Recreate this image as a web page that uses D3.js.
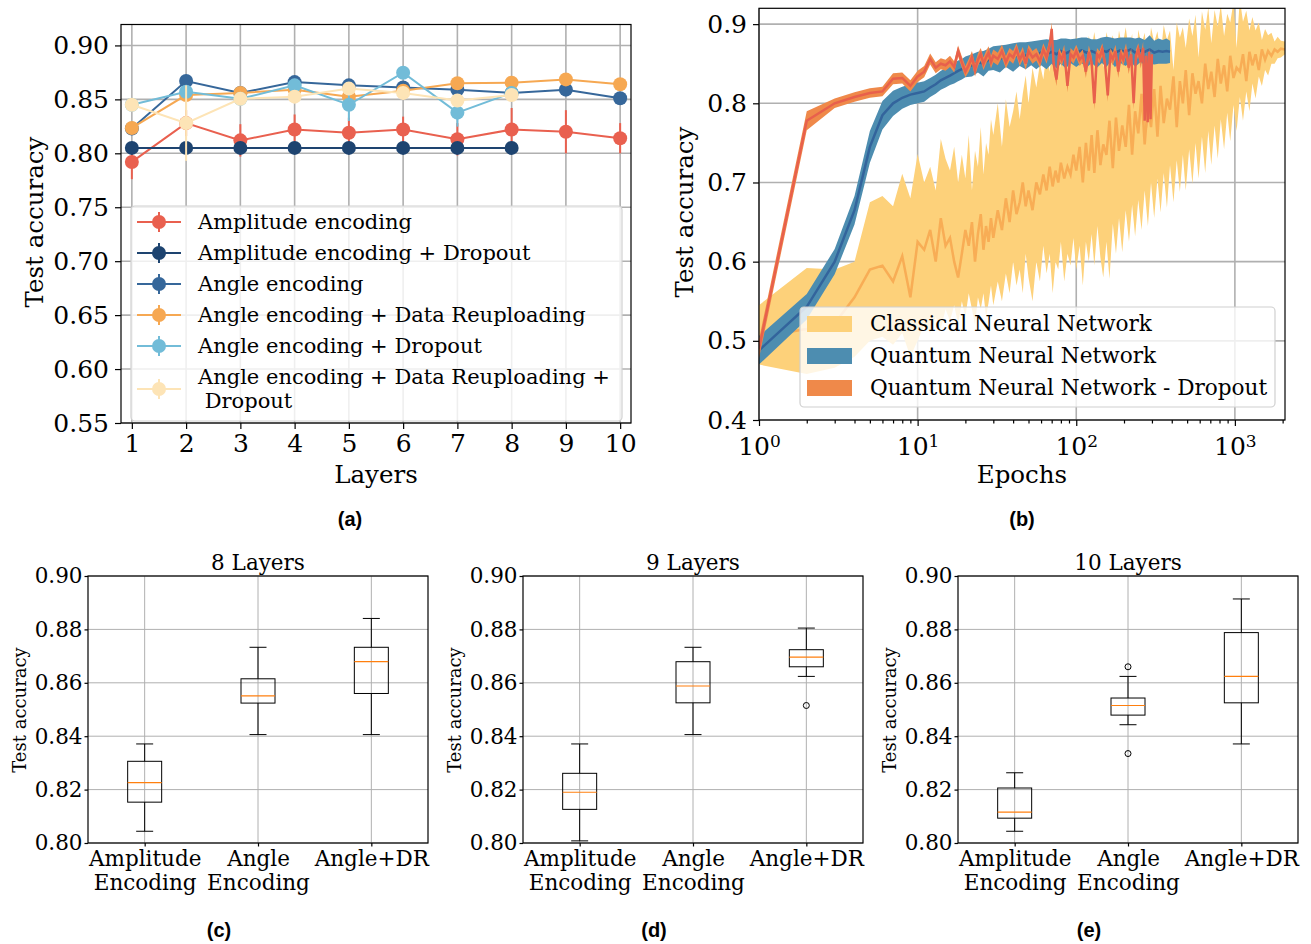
<!DOCTYPE html>
<html>
<head>
<meta charset="utf-8">
<script src="https://cdn.jsdelivr.net/npm/d3@7"></script>
<style>
body { margin: 0; background: #fff; }
svg text { font-family: "DejaVu Serif", serif; fill: #000; }
</style>
</head>
<body>
<svg id="chart" width="1311" height="944"></svg>
<script>
// ---------------- data: panel (a) ----------------
var layers = [1, 2, 3, 4, 5, 6, 7, 8, 9, 10];
var aTicks = [0.55, 0.60, 0.65, 0.70, 0.75, 0.80, 0.85, 0.90];

var ampMean = [0.792, 0.828, 0.812, 0.822, 0.819, 0.822, 0.813, 0.822, 0.820, 0.814];
var ampErr = [0.016, 0.012, 0.015, 0.014, 0.014, 0.012, 0.015, 0.020, 0.020, 0.014];
var ampDropMean = [0.805, 0.805, 0.805, 0.805, 0.805, 0.805, 0.805, 0.805];
var ampDropErr = [0.001, 0.001, 0.001, 0.001, 0.001, 0.001, 0.001, 0.001];
var angleMean = [0.823, 0.867, 0.856, 0.866, 0.863, 0.861, 0.859, 0.856, 0.859, 0.851];
var angleErr = [0.004, 0.005, 0.004, 0.004, 0.004, 0.006, 0.004, 0.004, 0.004, 0.005];
var angleDrMean = [0.8235, 0.854, 0.856, 0.859, 0.8525, 0.858, 0.865, 0.8655, 0.8685, 0.864];
var angleDrErr = [0.004, 0.005, 0.004, 0.006, 0.006, 0.005, 0.004, 0.004, 0.004, 0.004];
var angleDropMean = [0.845, 0.857, 0.8505, 0.863, 0.845, 0.8747, 0.8377, 0.856];
var angleDropErr = [0.004, 0.006, 0.005, 0.006, 0.015, 0.005, 0.013, 0.006];
var angleDrDropMean = [0.845, 0.828, 0.8505, 0.8525, 0.860, 0.856, 0.849, 0.854];
var angleDrDropErr = [0.004, 0.035, 0.005, 0.006, 0.006, 0.006, 0.006, 0.005];

var aNames = ["Amplitude encoding", "Amplitude encoding + Dropout", "Angle encoding",
    "Angle encoding + Data Reuploading", "Angle encoding + Dropout",
    "Angle encoding + Data Reuploading +\n Dropout"];
var aColors = ["#e9604f", "#1e4470", "#36679a", "#f6a852", "#72bcd8", "#fde4b6"];

// ---------------- data: panel (b) ----------------
var bTicks = [0.4, 0.5, 0.6, 0.7, 0.8, 0.9];
var bDecades = [1, 10, 100, 1000];
var bNames = ["Classical Neural Network", "Quantum Neural Network", "Quantum Neural Network - Dropout"];

var clEpochs = [1, 2, 3, 4, 5, 6, 7, 8, 9, 10,
    11, 12, 13, 14, 15, 16, 17, 18, 19, 20,
    21, 22, 23, 24, 25, 26, 27, 28, 29, 30,
    32, 34, 36, 38, 40, 42, 44, 46, 48, 50,
    53, 56, 59, 62, 65, 68, 71, 74, 77, 80,
    84, 88, 92, 96, 100, 105, 110, 115, 120, 125,
    130, 136, 142, 148, 155, 162, 170, 178, 186, 195,
    205, 215, 225, 235, 246, 258, 270, 283, 296, 310,
    325, 340, 356, 373, 390, 410, 430, 450, 470, 490,
    515, 540, 565, 590, 620, 650, 680, 710, 745, 780,
    815, 855, 895, 935, 980, 1025, 1075, 1125, 1180, 1235,
    1290, 1350, 1415, 1480, 1550, 1620, 1700, 1780, 1860, 1950,
    2070];
var clHigh = [.545, .592, .590, .600, .675, .683, .670, .711, .680, .736,
    .700, .720, .690, .755, .730, .715, .745, .700, .735, .705,
    .760, .690, .740, .720, .770, .710, .750, .735, .780, .760,
    .800, .745, .805, .770, .790, .815, .780, .812, .835, .800,
    .845, .820, .850, .830, .865, .840, .875, .850, .870, .845,
    .880, .860, .875, .855, .885, .865, .880, .860, .885, .870,
    .890, .862, .884, .845, .890, .872, .886, .858, .892, .870,
    .896, .865, .888, .832, .893, .874, .889, .850, .896, .877,
    .891, .860, .899, .880, .892, .842, .902, .883, .896, .870,
    .907, .885, .912, .858, .916, .893, .921, .876, .918, .897,
    .924, .885, .913, .902, .928, .870, .932, .903, .917, .892,
    .909, .892, .902, .880, .894, .886, .889, .878, .884, .879,
    .878];
var clLow = [.470, .458, .466, .480, .500, .505, .495, .510, .480, .500,
    .520, .510, .530, .515, .540, .525, .545, .520, .550, .530,
    .560, .540, .520, .555, .540, .560, .530, .548, .570, .545,
    .575, .550, .585, .560, .600, .570, .590, .560, .610, .580,
    .550, .600, .575, .620, .585, .610, .560, .600, .590, .625,
    .575, .610, .595, .630, .590, .620, .570, .625, .600, .635,
    .595, .645, .605, .580, .625, .578, .648, .610, .655, .612,
    .665, .625, .672, .632, .678, .640, .690, .645, .700, .655,
    .705, .662, .712, .668, .722, .675, .728, .688, .735, .690,
    .742, .698, .750, .705, .758, .712, .765, .722, .772, .730,
    .780, .742, .788, .752, .798, .765, .808, .778, .815, .790,
    .825, .806, .834, .822, .842, .835, .850, .850, .857, .858,
    .862];
var clMean = [.505, .515, .522, .555, .590, .595, .575, .607, .555, .625,
    .615, .640, .600, .655, .620, .630, .600, .580, .610, .640,
    .620, .650, .600, .635, .660, .615, .645, .625, .655, .630,
    .665, .640, .680, .650, .690, .660, .675, .700, .670, .690,
    .665, .700, .685, .710, .690, .720, .695, .715, .700, .725,
    .705, .720, .710, .735, .715, .745, .700, .750, .715, .760,
    .712, .766, .722, .748, .735, .778, .718, .782, .740, .772,
    .745, .798, .735, .790, .762, .812, .748, .800, .770, .818,
    .758, .822, .775, .806, .792, .834, .770, .828, .800, .842,
    .785, .838, .812, .828, .800, .850, .818, .840, .808, .856,
    .825, .848, .815, .860, .832, .845, .840, .862, .828, .865,
    .848, .862, .842, .868, .855, .866, .860, .868, .865, .869,
    .868];

var qEpochs = [1, 2, 3, 4, 5, 6, 7, 8, 9, 10,
    11, 12, 13, 14, 15, 16, 17, 18, 19, 20,
    22, 24, 26, 28, 30, 33, 36, 40, 44, 48,
    52, 56, 60, 65, 70, 75, 80, 86, 92, 100,
    108, 116, 125, 135, 145, 155, 165, 175, 190, 205,
    220, 235, 250, 270, 290, 310, 330, 350, 370, 390];
var qMean = [.488, .543, .600, .665, .745, .785, .800, .807, .811, .813,
    .815, .820, .824, .829, .832, .835, .838, .841, .843, .846,
    .848, .852, .850, .855, .857, .856, .860, .858, .862, .860,
    .863, .861, .864, .862, .865, .862, .866, .863, .866, .864,
    .867, .864, .866, .863, .867, .865, .868, .864, .867, .865,
    .868, .864, .867, .865, .868, .864, .866, .865, .866, .865];
var qSpread = [.018, .016, .016, .018, .020, .018, .016, .014, .013, .013,
    .013, .012, .012, .012, .012, .012, .013, .013, .013, .013,
    .014, .013, .016, .014, .015, .017, .014, .018, .015, .017,
    .015, .018, .016, .019, .015, .018, .016, .019, .015, .018,
    .016, .019, .015, .018, .016, .019, .015, .018, .016, .018,
    .015, .018, .016, .015, .018, .015, .016, .015, .016, .014];

var drEpochs = [1, 2, 3, 4, 5, 6, 7, 8, 9, 10,
    11, 12, 13, 14, 15, 16, 17, 18, 19, 20,
    21, 22, 23, 24, 25, 26, 27, 28, 29, 30,
    32, 34, 36, 38, 40, 42, 44, 46, 48, 50,
    53, 56, 59, 62, 65, 68, 70, 72, 75, 78,
    81, 84, 88, 92, 96, 100, 105, 110, 115, 120,
    125, 130, 135, 140, 146, 152, 158, 164, 170, 177,
    184, 191, 198, 206, 214, 222, 230, 238, 246, 255,
    264, 270, 276, 282, 288, 294, 300];
var drMean = [.490, .778, .800, .808, .813, .815, .831, .832, .822, .834,
    .840, .856, .845, .850, .848, .853, .846, .866, .852, .840,
    .848, .858, .842, .855, .862, .850, .858, .864, .852, .860,
    .856, .866, .852, .862, .858, .868, .855, .863, .850, .866,
    .858, .862, .853, .868, .858, .874, .894, .850, .830, .862,
    .855, .866, .822, .862, .858, .866, .855, .860, .840, .865,
    .852, .800, .862, .858, .868, .850, .810, .862, .856, .866,
    .840, .862, .855, .868, .845, .862, .800, .860, .868, .852,
    .870, .778, .860, .776, .865, .780, .862];
var drSpread = [.012, .012, .006, .006, .006, .006, .007, .007, .007, .007,
    .007, .007, .007, .007, .007, .007, .007, .007, .007, .007,
    .008, .008, .008, .008, .008, .008, .008, .008, .008, .008,
    .008, .008, .008, .008, .008, .008, .008, .008, .008, .008,
    .008, .008, .008, .008, .008, .008, .008, .008, .008, .008,
    .008, .008, .008, .008, .008, .008, .008, .008, .008, .008,
    .008, .008, .008, .008, .008, .008, .008, .008, .008, .008,
    .008, .008, .008, .008, .008, .008, .008, .008, .008, .008,
    .008, .008, .008, .008, .008, .008, .008];

// ---------------- data: panels (c)-(e) ----------------
var boxCats = ["Amplitude\nEncoding", "Angle\nEncoding", "Angle+DR"];
var boxTicks = [0.80, 0.82, 0.84, 0.86, 0.88, 0.90];
// [whisker low, q1, median, q3, whisker high]
var stats8 = [[0.8044, 0.8153, 0.8226, 0.8306, 0.8371],
    [0.8406, 0.8524, 0.8551, 0.8615, 0.8733],
    [0.8406, 0.8560, 0.8679, 0.8733, 0.8841]];
var outliers8 = [[], [], []];
var stats9 = [[0.8008, 0.8126, 0.8190, 0.8261, 0.8371],
    [0.8406, 0.8525, 0.8588, 0.8679, 0.8733],
    [0.8624, 0.8660, 0.8696, 0.8724, 0.8805]];
var outliers9 = [[], [], [0.8515]];
var stats10 = [[0.8044, 0.8093, 0.8116, 0.8206, 0.8263],
    [0.8443, 0.8479, 0.8515, 0.8543, 0.8624],
    [0.8371, 0.8525, 0.8624, 0.8788, 0.8914]];
var outliers10 = [[], [0.8335, 0.8660], []];

var svg = d3.select("#chart");
var gridColor = "#b0b0b0";

function styleAxis(g, size) {
    g.attr("font-family", "DejaVu Serif").attr("font-size", size);
    g.select(".domain").remove();
    g.selectAll(".tick line").attr("stroke", "#000").attr("stroke-width", 1.2);
    g.selectAll(".tick text").attr("fill", "#000");
}

function drawGrid(g, xs, xv, ys, yv, width) {
    var x0 = xs.range()[0], x1 = xs.range()[1];
    var y0 = ys.range()[0], y1 = ys.range()[1];
    g.append("g").selectAll("line").data(xv).join("line")
        .attr("x1", d => xs(d)).attr("x2", d => xs(d))
        .attr("y1", y0).attr("y2", y1)
        .attr("stroke", gridColor).attr("stroke-width", width);
    g.append("g").selectAll("line").data(yv).join("line")
        .attr("x1", x0).attr("x2", x1)
        .attr("y1", d => ys(d)).attr("y2", d => ys(d))
        .attr("stroke", gridColor).attr("stroke-width", width);
}

function frame(g, xs, ys) {
    var x0 = xs.range()[0], x1 = xs.range()[1];
    var y0 = ys.range()[0], y1 = ys.range()[1];
    g.append("rect")
        .attr("x", x0).attr("y", y1)
        .attr("width", x1 - x0).attr("height", y0 - y1)
        .attr("fill", "none").attr("stroke", "#000").attr("stroke-width", 1.2);
}

function panelLabel(txt, x, y) {
    svg.append("text").attr("x", x).attr("y", y)
        .attr("text-anchor", "middle")
        .style("font-family", "'Liberation Sans', Arial, sans-serif")
        .style("font-weight", "bold")
        .attr("font-size", 20)
        .text(txt);
}

// ================= panel (a) =================
(function() {
    var xA = d3.scaleLinear().domain([0.8, 10.2]).range([121, 631]);
    var yA = d3.scaleLinear().domain([0.55, 0.9194]).range([423, 24.5]);
    var g = svg.append("g");

    drawGrid(g, xA, layers, yA, aTicks, 1.6);

    var means = [ampMean, ampDropMean, angleMean, angleDrMean, angleDropMean, angleDrDropMean];
    var errs = [ampErr, ampDropErr, angleErr, angleDrErr, angleDropErr, angleDrDropErr];

    means.forEach(function(m, k) {
        var pts = m.map(function(v, i) { return { x: layers[i], y: v, e: errs[k][i] }; });
        var sg = g.append("g");
        sg.selectAll("line.err").data(pts).join("line")
            .attr("class", "err")
            .attr("x1", d => xA(d.x)).attr("x2", d => xA(d.x))
            .attr("y1", d => yA(d.y - d.e)).attr("y2", d => yA(d.y + d.e))
            .attr("stroke", aColors[k]).attr("stroke-width", 2);
        sg.append("path").datum(pts)
            .attr("fill", "none").attr("stroke", aColors[k]).attr("stroke-width", 2)
            .attr("d", d3.line().x(d => xA(d.x)).y(d => yA(d.y)));
        sg.selectAll("circle").data(pts).join("circle")
            .attr("cx", d => xA(d.x)).attr("cy", d => yA(d.y))
            .attr("r", 7).attr("fill", aColors[k]);
    });

    // legend
    var lg = g.append("g");
    lg.append("rect").attr("x", 131).attr("y", 206).attr("width", 491).attr("height", 215)
        .attr("rx", 4).attr("fill", "#fff").attr("fill-opacity", 0.8)
        .attr("stroke", "#d0d0d0").attr("stroke-width", 1.2);
    var rowY = [222, 253, 284, 315, 346, 389];
    aNames.forEach(function(name, k) {
        var cy = rowY[k];
        lg.append("line").attr("x1", 137).attr("x2", 181).attr("y1", cy).attr("y2", cy)
            .attr("stroke", aColors[k]).attr("stroke-width", 2);
        lg.append("line").attr("x1", 159).attr("x2", 159).attr("y1", cy - 10).attr("y2", cy + 10)
            .attr("stroke", aColors[k]).attr("stroke-width", 2);
        lg.append("circle").attr("cx", 159).attr("cy", cy).attr("r", 7).attr("fill", aColors[k]);
        var lines = name.split("\n");
        var t = lg.append("text").attr("x", 198).attr("font-size", 21);
        if (lines.length == 1) {
            t.attr("y", cy + 7).text(name);
        } else {
            t.attr("y", cy - 5).text(lines[0]);
            lg.append("text").attr("x", 198).attr("y", cy + 19).attr("font-size", 21)
                .attr("xml:space", "preserve").text(lines[1]);
        }
    });

    frame(g, xA, yA);

    g.append("g").attr("transform", "translate(0,423)")
        .call(d3.axisBottom(xA).tickValues(layers).tickSize(6).tickPadding(5).tickFormat(d3.format("d")))
        .call(styleAxis, 25);
    g.append("g").attr("transform", "translate(121,0)")
        .call(d3.axisLeft(yA).tickValues(aTicks).tickSize(6).tickPadding(6).tickFormat(d3.format(".2f")))
        .call(styleAxis, 25);

    g.append("text").attr("x", 376).attr("y", 483).attr("text-anchor", "middle")
        .attr("font-size", 24.5).text("Layers");
    g.append("text").attr("transform", "translate(43,222) rotate(-90)")
        .attr("text-anchor", "middle").attr("font-size", 24.5).text("Test accuracy");
    panelLabel("(a)", 350, 526);
})();

// ================= panel (b) =================
(function() {
    var xB = d3.scaleLog().domain([1, 2070]).range([759, 1285]);
    var yB = d3.scaleLinear().domain([0.4, 0.92]).range([420, 8.3]);
    var g = svg.append("g");

    svg.append("defs").append("clipPath").attr("id", "clipB")
        .append("rect").attr("x", 759).attr("y", 8.3).attr("width", 526).attr("height", 411.7);

    drawGrid(g, xB, bDecades, yB, bTicks, 1.6);

    var plot = g.append("g").attr("clip-path", "url(#clipB)");
    var area = d3.area().x(d => xB(d.x)).y0(d => yB(d.lo)).y1(d => yB(d.hi));
    var line = d3.line().x(d => xB(d.x)).y(d => yB(d.y));

    var cl = clEpochs.map(function(e, i) { return { x: e, lo: clLow[i], hi: clHigh[i], y: clMean[i] }; });
    var q = qEpochs.map(function(e, i) { return { x: e, lo: qMean[i] - qSpread[i], hi: qMean[i] + qSpread[i], y: qMean[i] }; });
    var dr = drEpochs.map(function(e, i) { return { x: e, lo: drMean[i] - drSpread[i], hi: drMean[i] + drSpread[i], y: drMean[i] }; });

    plot.append("path").datum(cl).attr("d", area).attr("fill", "#fdd17a");
    plot.append("path").datum(cl).attr("d", line).attr("fill", "none")
        .attr("stroke", "#f5a04a").attr("stroke-opacity", 0.75).attr("stroke-width", 2.5);
    plot.append("path").datum(q).attr("d", area).attr("fill", "#4d8db0");
    plot.append("path").datum(q).attr("d", line).attr("fill", "none")
        .attr("stroke", "#33649c").attr("stroke-width", 2.5);
    plot.append("path").datum(dr).attr("d", area).attr("fill", "#ef894a");
    plot.append("path").datum(dr).attr("d", line).attr("fill", "none")
        .attr("stroke", "#e8604c").attr("stroke-width", 2.5);

    // legend
    var lg = g.append("g");
    lg.append("rect").attr("x", 800).attr("y", 307).attr("width", 475).attr("height", 100)
        .attr("rx", 4).attr("fill", "#fff").attr("fill-opacity", 0.8)
        .attr("stroke", "#d0d0d0").attr("stroke-width", 1.2);
    var patchCol = ["#fdd17a", "#4d8db0", "#ef894a"];
    bNames.forEach(function(name, k) {
        var cy = 324 + k * 32;
        lg.append("rect").attr("x", 807).attr("y", cy - 8).attr("width", 45).attr("height", 16)
            .attr("fill", patchCol[k]);
        lg.append("text").attr("x", 870).attr("y", cy + 7).attr("font-size", 21.6).text(name);
    });

    frame(g, xB, yB);

    var minor = [];
    bDecades.forEach(function(d) {
        [2, 3, 4, 5, 6, 7, 8, 9].forEach(function(m) { if (d * m <= 2070) minor.push(d * m); });
    });
    g.append("g").attr("transform", "translate(0,420)")
        .call(d3.axisBottom(xB).tickValues(minor).tickSize(3.5).tickFormat(""))
        .call(styleAxis, 25);
    var xa = g.append("g").attr("transform", "translate(0,420)")
        .call(d3.axisBottom(xB).tickValues(bDecades).tickSize(6).tickPadding(8).tickFormat(""))
        .call(styleAxis, 25);
    xa.selectAll(".tick text").each(function(d) {
        var t = d3.select(this).attr("dy", "0.85em");
        t.append("tspan").text("10");
        t.append("tspan").attr("dy", "-0.5em").attr("font-size", 17).text(Math.round(Math.log10(d)));
    });
    g.append("g").attr("transform", "translate(759,0)")
        .call(d3.axisLeft(yB).tickValues(bTicks).tickSize(6).tickPadding(6).tickFormat(d3.format(".1f")))
        .call(styleAxis, 25);

    g.append("text").attr("x", 1022).attr("y", 483).attr("text-anchor", "middle")
        .attr("font-size", 24.5).text("Epochs");
    g.append("text").attr("transform", "translate(693,212) rotate(-90)")
        .attr("text-anchor", "middle").attr("font-size", 24.5).text("Test accuracy");
    panelLabel("(b)", 1022, 526);
})();

// ================= panels (c) (d) (e) =================
function drawBoxPanel(x0, title, stats, outliers, label) {
    var xs = d3.scaleLinear().domain([0.5, 3.5]).range([x0, x0 + 340]);
    var ys = d3.scaleLinear().domain([0.80, 0.90]).range([843, 576]);
    var g = svg.append("g");
    var pos = [1, 2, 3];

    drawGrid(g, xs, pos, ys, boxTicks, 1);

    var bw = xs(1.15) - xs(0.85);
    var bg = g.append("g");
    stats.forEach(function(s, i) {
        var cx = xs(pos[i]);
        bg.append("line").attr("x1", cx).attr("x2", cx).attr("y1", ys(s[0])).attr("y2", ys(s[1]))
            .attr("stroke", "#000").attr("stroke-width", 1);
        bg.append("line").attr("x1", cx).attr("x2", cx).attr("y1", ys(s[3])).attr("y2", ys(s[4]))
            .attr("stroke", "#000").attr("stroke-width", 1);
        [s[0], s[4]].forEach(function(v) {
            bg.append("line").attr("x1", cx - bw / 4).attr("x2", cx + bw / 4)
                .attr("y1", ys(v)).attr("y2", ys(v)).attr("stroke", "#000").attr("stroke-width", 1);
        });
        bg.append("rect").attr("x", cx - bw / 2).attr("y", ys(s[3]))
            .attr("width", bw).attr("height", ys(s[1]) - ys(s[3]))
            .attr("fill", "none").attr("stroke", "#000").attr("stroke-width", 1);
        bg.append("line").attr("x1", cx - bw / 2).attr("x2", cx + bw / 2)
            .attr("y1", ys(s[2])).attr("y2", ys(s[2]))
            .attr("stroke", "#ff7f0e").attr("stroke-width", 1.2);
        bg.selectAll(null).data(outliers[i]).join("circle")
            .attr("cx", cx).attr("cy", d => ys(d)).attr("r", 3)
            .attr("fill", "none").attr("stroke", "#000").attr("stroke-width", 1);
    });

    frame(g, xs, ys);

    var xa = g.append("g").attr("transform", "translate(0,843)")
        .call(d3.axisBottom(xs).tickValues(pos).tickSize(3.5).tickPadding(4).tickFormat(""))
        .call(styleAxis, 21.5);
    xa.selectAll(".tick text").each(function(d, i) {
        var t = d3.select(this);
        boxCats[i].split("\n").forEach(function(part, j) {
            t.append("tspan").attr("x", 0).attr("dy", j == 0 ? "0.71em" : "1.12em").text(part);
        });
    });
    g.append("g").attr("transform", "translate(" + x0 + ",0)")
        .call(d3.axisLeft(ys).tickValues(boxTicks).tickSize(3.5).tickPadding(2).tickFormat(d3.format(".2f")))
        .call(styleAxis, 21.5);

    g.append("text").attr("x", x0 + 170).attr("y", 570).attr("text-anchor", "middle")
        .attr("font-size", 21.5).text(title);
    g.append("text").attr("transform", "translate(" + (x0 - 62) + ",710) rotate(-90)")
        .attr("text-anchor", "middle").attr("font-size", 18).text("Test accuracy");
    panelLabel(label, x0 + 131, 937);
}

drawBoxPanel(88, "8 Layers", stats8, outliers8, "(c)");
drawBoxPanel(523, "9 Layers", stats9, outliers9, "(d)");
drawBoxPanel(958, "10 Layers", stats10, outliers10, "(e)");
</script>
</body>
</html>
